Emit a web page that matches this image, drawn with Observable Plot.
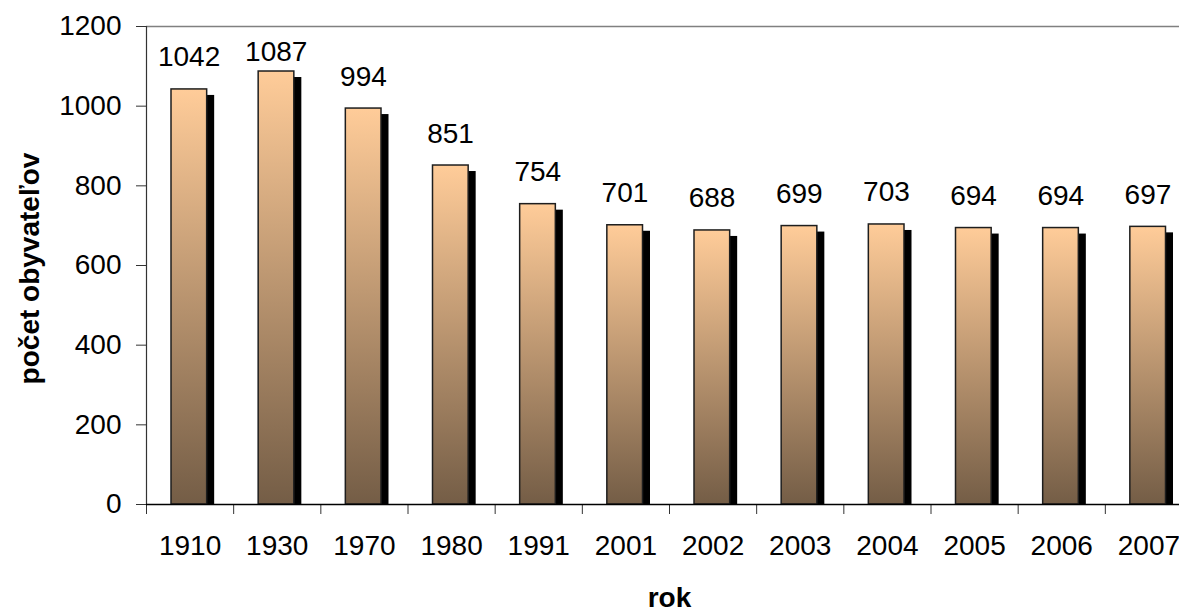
<!DOCTYPE html>
<html>
<head>
<meta charset="utf-8">
<script src="https://cdn.jsdelivr.net/npm/d3@7"></script>
<script src="https://cdn.jsdelivr.net/npm/@observablehq/plot@0.6"></script>
<style>
  html, body { margin: 0; padding: 0; background: #fff; overflow: hidden; }
  #chart { width: 1179px; height: 613px; overflow: hidden; }
</style>
</head>
<body>
<div id="chart"></div>
<script>
// Population by census / year
const years = ["1910", "1930", "1970", "1980", "1991", "2001", "2002", "2003", "2004", "2005", "2006", "2007"];
const population = [1042, 1087, 994, 851, 754, 701, 688, 699, 703, 694, 694, 697];
const yTicks = [0, 200, 400, 600, 800, 1000, 1200];

const rows = years.map((year, i) => ({i, year, value: population[i]}));
const slots = d3.range(years.length + 1);          // category boundaries
const centers = years.map((_, i) => i + 0.5);      // category centers

// labels that would run above the chart area are pinned just below its top
const labelLimit = 1062;

// vertical gradient used to fill each bar
const gradientDefs = () => {
  const defs = d3.create("svg:defs");
  const g = defs.append("linearGradient")
    .attr("id", "barFill")
    .attr("x1", 0).attr("y1", 0).attr("x2", 0).attr("y2", 1);
  g.append("stop").attr("offset", "0%").attr("stop-color", "#FFCC99");
  g.append("stop").attr("offset", "100%").attr("stop-color", "#745D46");
  return defs.node();
};

const barInset = {insetLeft: 25, insetRight: 26.5};
const labelX = d => d.i + 0.5;

const chart = Plot.plot({
  width: 1179,
  height: 613,
  marginLeft: 146,
  marginRight: -13,
  marginTop: 26,
  marginBottom: 109,
  style: {fontFamily: "'Liberation Sans', Arial, sans-serif", fontSize: "28px", color: "#000", background: "#fff"},
  x: {type: "linear", domain: [0, years.length]},
  y: {domain: [0, 1200]},
  marks: [
    gradientDefs,
    // top border of the plot area
    Plot.ruleY([1200], {stroke: "#808080", strokeWidth: 1.5}),
    // drop shadows
    Plot.rectY(rows, {x1: "i", x2: d => d.i + 1, y1: 0, y2: "value", fill: "#000", dx: 7.5, insetTop: 6, ...barInset}),
    // bars
    Plot.rectY(rows, {x1: "i", x2: d => d.i + 1, y1: 0, y2: "value", fill: "url(#barFill)", stroke: "#1e1e1e", strokeWidth: 1.5, ...barInset}),
    // value labels
    Plot.text(rows, {filter: d => d.value <= labelLimit, x: labelX, y: "value", text: d => String(d.value), lineAnchor: "bottom", dy: -23, dx: -1, fill: "#000"}),
    Plot.text(rows, {filter: d => d.value > labelLimit, x: labelX, frameAnchor: "top", text: d => String(d.value), lineAnchor: "bottom", dy: 34, dx: -1, fill: "#000"}),
    // axes
    Plot.axisY({ticks: yTicks, tickSize: 10, tickPadding: 15, tickFormat: d => String(d), label: null, stroke: "#333", fill: "#000"}),
    Plot.axisX({ticks: slots, tickSize: 10, tickFormat: () => "", label: null, stroke: "#333"}),
    Plot.axisX({ticks: centers, tickSize: 0, tickPadding: 31, tickFormat: v => years[Math.round(v - 0.5)], label: null, fill: "#000"}),
    Plot.ruleX([0], {y1: 0, y2: 1200, stroke: "#333", strokeWidth: 1.2}),
    Plot.ruleY([0], {stroke: "#000", strokeWidth: 1.5}),
    // axis titles
    Plot.text(["rok"], {frameAnchor: "bottom", dy: 102, fontWeight: "bold", fill: "#000"}),
    Plot.text(["počet obyvateľov"], {frameAnchor: "left", textAnchor: "middle", dx: -116, dy: 3, rotate: -90, fontWeight: "bold", fill: "#000"})
  ]
});

document.getElementById("chart").appendChild(chart);
</script>
</body>
</html>
